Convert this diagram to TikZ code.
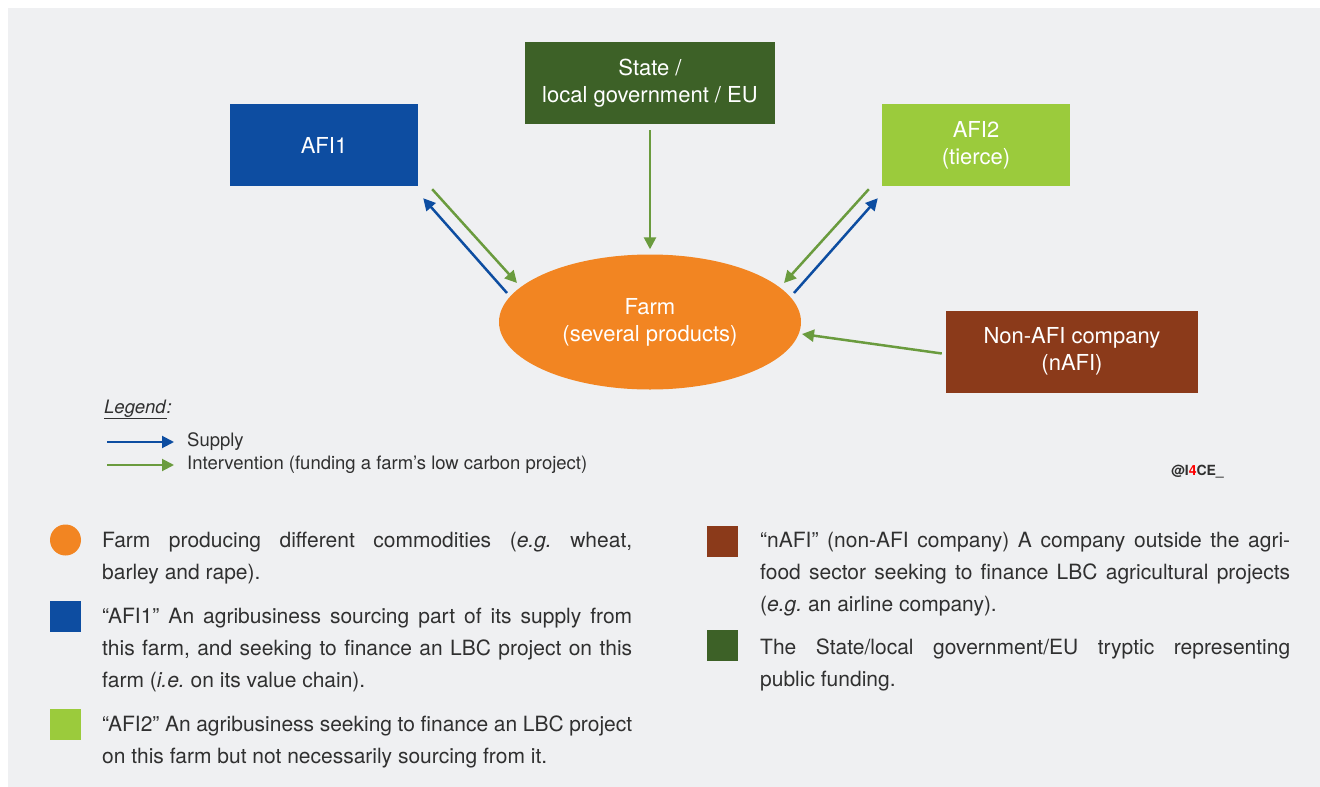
\documentclass[tikz,border=0pt]{standalone}
\usepackage{fontspec}
\setmainfont{TeX Gyre Heros}
\frenchspacing
\usetikzlibrary{positioning, arrows.meta, shapes.geometric}
\definecolor{bgcol}{HTML}{EFF0F2}
\definecolor{afiblue}{HTML}{0D4DA1}
\definecolor{stategreen}{HTML}{3D6127}
\definecolor{afigreen}{HTML}{9BCB3C}
\definecolor{nafibrown}{HTML}{8B3A1A}
\definecolor{farmorange}{HTML}{F28522}
\definecolor{arrowgreen}{HTML}{6A9B3E}
\definecolor{textgray}{HTML}{303030}
\tikzset{
  actor/.style={
    minimum width=188pt,
    minimum height=82pt,
    inner sep=0pt, align=center,
    text=white, font=\fontsize{22}{27}\selectfont,
  },
  farm/.style={
    ellipse, minimum width=302pt,
    minimum height=135pt, inner sep=0pt,
    fill=farmorange, text=white, align=center,
    font=\fontsize{22}{27}\selectfont,
  },
  supply/.style={
    draw=afiblue, line width=2.5pt,
    -{Triangle[length=12pt, width=12pt]},
  },
  interv/.style={
    draw=arrowgreen, line width=2.5pt,
    -{Triangle[length=12pt, width=12pt]},
  },
  keybox/.style={
    minimum size=31pt, inner sep=0pt,
  },
  keytext/.style={
    anchor=base west, inner sep=0pt,
    text width=530pt, align=justify, text=textgray,
    font=\fontsize{21}{32}\selectfont,
  },
  legtext/.style={
    inner sep=0pt, text=textgray,
    font=\fontsize{18.5}{22}\selectfont,
  },
}

\begin{document}
\begin{tikzpicture}[x=1pt, y=-1pt]
\useasboundingbox (0,0) rectangle (1320,787);
\fill[white] (0,0) rectangle (1320,787);
\fill[bgcol] (8,8) rectangle (1320,787);

\node[actor, fill=afiblue] (afi1) at (324,145) {AFI1};
\node[actor, fill=stategreen, minimum width=250pt] (state) at (650,83) {State /\\local government / EU};
\node[actor, fill=afigreen] (afi2) at (976,145) {AFI2\\(tierce)};
\node[actor, fill=nafibrown, minimum width=252pt] (nafi) at (1072,351.5) {Non-AFI company\\(nAFI)};
\node[farm] (farm) at (650,322) {Farm\\(several products)};

\draw[supply] ([shift={(-143,-29)}]farm.center) -- ([shift={(5,12)}]afi1.south east);
\draw[interv] ([shift={(14,3)}]afi1.south east) -- ([shift={(-133,-39)}]farm.center);
\draw[interv, shorten <=6pt, shorten >=5pt] (state) -- (farm);
\draw[interv] ([shift={(-13,3)}]afi2.south west) -- ([shift={(134,-39)}]farm.center);
\draw[supply] ([shift={(144,-29)}]farm.center) -- ([shift={(-4,12)}]afi2.south west);
\draw[interv] ([shift={(-4,2)}]nafi.west) -- ([shift={(152,12)}]farm.center);

% legend
\node[legtext, anchor=base west] (legend) at (104,413) {\underline{\textit{Legend}}\textit{:}};
\coordinate (k1a) at (107,442);
\coordinate (k1b) at (174,442);
\coordinate (k2a) at (107,465);
\coordinate (k2b) at (174,465);
\draw[supply, line width=2pt] (k1a) -- (k1b);
\draw[interv, line width=2pt] (k2a) -- (k2b);
\node[legtext, right=13pt of k1b] (supplytxt) {Supply};
\node[legtext, right=13pt of k2b] (intervtxt) {Intervention (funding a farm’s low carbon project)};
\node[legtext, anchor=base west, font=\bfseries\fontsize{14}{16}\selectfont] (tag) at (1171,475) {@I\textcolor{red}{4}CE\_};

% key
\node[keybox, circle, fill=farmorange] (kfarm) at (65.5,540) {};
\node[keybox, fill=afiblue] (kafi1) at (65.5,616) {};
\node[keybox, fill=afigreen] (kafi2) at (65.5,724.5) {};
\node[keybox, fill=nafibrown] (knafi) at (722,541) {};
\node[keybox, fill=stategreen] (kstate) at (722,645.5) {};

\node[keytext] (tfarm) at (102,547) {Farm producing different commodities (\emph{e.g.} wheat,\linebreak barley and rape).};
\node[keytext] (tafi1) at (102,623) {“AFI1” An agribusiness sourcing part of its supply from\linebreak this farm, and seeking to finance an LBC project on this\linebreak farm (\emph{i.e.} on its value chain).};
\node[keytext] (tafi2) at (102,731) {“AFI2” An agribusiness seeking to finance an LBC project\linebreak on this farm but not necessarily sourcing from it.};
\node[keytext] (tnafi) at (760,547) {“nAFI” (non-AFI company) A company outside the agri-\linebreak food sector seeking to finance LBC agricultural projects\linebreak (\emph{e.g.} an airline company).};
\node[keytext] (tstate) at (760,654) {The State/local government/EU tryptic representing\linebreak public funding.};
\end{tikzpicture}
\end{document}
